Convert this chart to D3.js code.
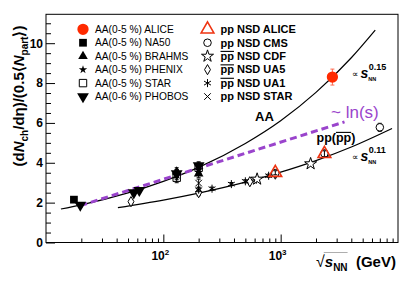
<!DOCTYPE html>
<html>
<head>
<meta charset="utf-8">
<script src="https://cdn.jsdelivr.net/npm/d3@7"></script>
<style>
  body { margin: 0; background: #fff; }
  svg { display: block; font-family: "Liberation Sans", Arial, Helvetica, sans-serif; }
</style>
</head>
<body>
<svg id="chart"></svg>
<script>
// values, energy sqrt(s_NN) in GeV
const aliceAA  = [{e: 2760, v: 8.3, err: 0.4}];
const na50AA   = [{e: 17.3, v: 2.15, err: 0.08}];
const brahmsAA = [{e: 130, v: 3.55, err: 0.2}, {e: 200, v: 3.45, err: 0.2}];
const phenixAA = [{e: 130, v: 3.4, err: 0.25}, {e: 200, v: 3.65, err: 0.25}];
const starAA   = [{e: 130, v: 3.25, err: 0.25}, {e: 200, v: 3.75, err: 0.25}];
const phobosAA = [{e: 19.6, v: 1.88, err: 0.12}, {e: 56, v: 2.5, err: 0.12}, {e: 62.4, v: 2.62, err: 0.12},
                  {e: 130, v: 3.45, err: 0.2}, {e: 200, v: 3.85, err: 0.2}];

const alicePP = [{e: 900, v: 3.5, err: 0.1}, {e: 2360, v: 4.45, err: 0.15}];
const cmsPP   = [{e: 900, v: 3.48, err: 0.1}, {e: 2360, v: 4.47, err: 0.15}, {e: 7000, v: 5.78, err: 0.2}];
const cdfPP   = [{e: 630, v: 3.18, err: 0.1}, {e: 1800, v: 3.95, err: 0.12}];
const ua5PP   = [{e: 53, v: 2.05, err: 0.1}, {e: 200, v: 2.5, err: 0.15}, {e: 546, v: 3.05, err: 0.1}, {e: 900, v: 3.43, err: 0.1}];
const ua1PP   = [{e: 200, v: 2.65, err: 0.1}, {e: 260, v: 2.7, err: 0.08}, {e: 380, v: 2.93, err: 0.08},
                 {e: 500, v: 3.07, err: 0.08}, {e: 620, v: 3.15, err: 0.08}, {e: 790, v: 3.35, err: 0.08}, {e: 900, v: 3.45, err: 0.08}];
const starPP  = [{e: 200, v: 2.98, err: 0.2}];

// fit curves, points
const aaFitE = [13.4, 20, 50, 100, 200, 500, 1000, 2000, 4000, 6400];
const aaFitV = [1.68, 1.89, 2.49, 3.07, 3.77, 4.97, 6.11, 7.53, 9.27, 10.66];
const ppFitE = [41, 100, 200, 500, 1000, 2000, 4000, 8900];
const ppFitV = [1.75, 2.13, 2.48, 3.03, 3.53, 4.11, 4.79, 5.72];
const lnFitE = [19.6, 3500];
const lnFitV = [1.85, 6.05];

// ticks
const xMajor = [100, 1000];
const xMajorExp = ["2", "3"];
const xMinor = [20, 30, 40, 50, 60, 70, 80, 90, 200, 300, 400, 500, 600, 700, 800, 900, 2000, 3000, 4000, 5000, 6000, 7000, 8000, 9000];
const yMajor = [0, 2, 4, 6, 8, 10];
const yMinor = d3.range(0.5, 11.5, 0.5).filter(d => d % 2 !== 0);

const legendLeft  = ["AA(0-5 %) ALICE", "AA(0-5 %) NA50", "AA(0-5 %) BRAHMS", "AA(0-5 %) PHENIX", "AA(0-5 %) STAR", "AA(0-6 %) PHOBOS"];
const legendRight = ["pp NSD  ALICE", "pp NSD CMS", "pp NSD CDF", "pp NSD UA5", "pp NSD UA1", "pp NSD STAR"];
const legendRightBar = [false, false, true, true, true, false];

const RED = "#ff2a00";
const PURPLE = "#9a44cc";

class MultChart {
  constructor(_config) {
    this.config = {
      parentElement: _config.parentElement,
      containerWidth: 416,
      containerHeight: 302,
      left: 46, right: 398, top: 14.3, bottom: 242.5
    };
    this.initVis();
  }

  initVis() {
    let vis = this;
    const c = vis.config;
    vis.svg = d3.select(c.parentElement)
      .attr('width', c.containerWidth)
      .attr('height', c.containerHeight);

    vis.x = d3.scaleLog().domain([10, 10000]).range([c.left, c.right]);
    vis.y = d3.scaleLinear().domain([0, 11.45]).range([c.bottom, c.top]);

    // series styles
    vis.series = [
      {data: aliceAA,  shape: d3.symbolCircle,   size: 100, fill: RED, stroke: "none", err: "#ff6a50", leg: 0, side: 0},
      {data: na50AA,   shape: d3.symbolSquare,   size: 60,  fill: "#000", stroke: "none", leg: 1, side: 0},
      {data: brahmsAA, shape: d3.symbolTriangle, size: 40,  fill: "#000", stroke: "none", leg: 2, side: 0},
      {data: phenixAA, shape: d3.symbolStar,     size: 30,  fill: "#000", stroke: "none", leg: 3, side: 0},
      {data: starAA,   shape: d3.symbolSquare,   size: 55,  fill: "none", stroke: "#000", leg: 4, side: 0},
      {data: phobosAA, shape: d3.symbolTriangle, size: 60,  fill: "#000", stroke: "none", flip: true, leg: 5, side: 0},
      {data: ua5PP,    shape: d3.symbolDiamond,  size: 30,  fill: "#fff", stroke: "#000", leg: 3, side: 1},
      {data: ua1PP,    shape: d3.symbolAsterisk, size: 45,  fill: "none", stroke: "#000", leg: 4, side: 1},
      {data: starPP,   shape: d3.symbolX,        size: 30,  fill: "none", stroke: "#000", leg: 5, side: 1},
      {data: cdfPP,    shape: d3.symbolStar,     size: 45,  fill: "#fff", stroke: "#000", leg: 2, side: 1},
      {data: cmsPP,    shape: d3.symbolCircle,   size: 45,  fill: "#fff", stroke: "#000", leg: 1, side: 1},
      {data: alicePP,  shape: d3.symbolTriangle, size: 70,  fill: "none", stroke: "#ee3311", sw: 1.6, leg: 0, side: 1}
    ];
    vis.renderVis();
  }

  renderVis() {
    let vis = this;
    const c = vis.config;
    const x = vis.x, y = vis.y;

    // ticks, inside the frame
    const bottomAxis = (vals, len) => vis.svg.append('g')
      .attr('transform', `translate(0,${c.bottom})`)
      .call(d3.axisBottom(x).tickValues(vals).tickSize(-len).tickFormat(''))
      .call(g => g.select('.domain').remove());
    bottomAxis(xMinor, 4);
    bottomAxis(xMajor, 8);

    vis.svg.append('g')
      .attr('transform', `translate(${c.left},0)`)
      .call(d3.axisLeft(y).tickValues(yMinor).tickSize(-5).tickFormat(''))
      .call(g => g.select('.domain').remove());
    vis.svg.append('g')
      .attr('transform', `translate(${c.left},0)`)
      .call(d3.axisLeft(y).tickValues(yMajor).tickSize(-9).tickPadding(3))
      .call(g => g.select('.domain').remove())
      .call(g => g.selectAll('text').attr('font-size', 12).attr('font-weight', 'bold')
        .attr('font-family', '"Liberation Sans", Arial, sans-serif').attr('fill', '#000'));

    vis.svg.selectAll('.xlab').data(xMajor).join('text')
      .attr('class', 'xlab')
      .attr('x', d => x(d) - 3)
      .attr('y', 260)
      .attr('text-anchor', 'middle')
      .attr('font-size', 12).attr('font-weight', 'bold')
      .text('10')
      .append('tspan').attr('dy', -5).attr('font-size', 8)
      .text((d, i) => xMajorExp[i]);

    // frame
    vis.svg.append('rect')
      .attr('x', c.left).attr('y', c.top)
      .attr('width', c.right - c.left).attr('height', c.bottom - c.top)
      .attr('fill', 'none').attr('stroke', '#000').attr('stroke-width', 1);

    // fits
    const line = d3.line().x(d => x(d[0])).y(d => y(d[1])).curve(d3.curveMonotoneX);
    vis.svg.append('path').datum(d3.zip(aaFitE, aaFitV))
      .attr('d', line).attr('fill', 'none').attr('stroke', '#000').attr('stroke-width', 1.2);
    vis.svg.append('path').datum(d3.zip(ppFitE, ppFitV))
      .attr('d', line).attr('fill', 'none').attr('stroke', '#000').attr('stroke-width', 1.2);
    vis.svg.append('path').datum(d3.zip(lnFitE, lnFitV))
      .attr('d', line).attr('fill', 'none').attr('stroke', PURPLE)
      .attr('stroke-width', 3).attr('stroke-dasharray', '7,4');

    // points
    vis.series.forEach(s => {
      const g = vis.svg.append('g');
      g.selectAll('.eb').data(s.data).join('path')
        .attr('d', d => {
          const xp = x(d.e), y1 = y(d.v - d.err), y2 = y(d.v + d.err);
          return `M${xp},${y1}V${y2}M${xp - 2},${y1}H${xp + 2}M${xp - 2},${y2}H${xp + 2}`;
        })
        .attr('stroke', s.err || '#000').attr('stroke-width', 1).attr('fill', 'none');
      g.selectAll('.pt').data(s.data).join('path')
        .attr('transform', d => `translate(${x(d.e)},${y(d.v)})` + (s.flip ? ' rotate(180)' : ''))
        .attr('d', d3.symbol(s.shape, s.size))
        .attr('fill', s.fill).attr('stroke', s.stroke).attr('stroke-width', s.sw || 1);
    });

    // legend
    const rowY = i => 29.3 + i * 13.45;
    vis.series.forEach(s => {
      const mx = s.side === 0 ? 83 : 207.5;
      vis.svg.append('path')
        .attr('transform', `translate(${mx},${rowY(s.leg)})` + (s.flip ? ' rotate(180)' : ''))
        .attr('d', d3.symbol(s.shape, s.side === 0 && s.leg === 3 ? 22 : s.size))
        .attr('fill', s.fill === '#fff' ? 'none' : s.fill).attr('stroke', s.stroke).attr('stroke-width', s.sw || 1);
    });
    vis.svg.selectAll('.legL').data(legendLeft).join('text')
      .attr('x', 95).attr('y', (d, i) => rowY(i) + 3.7)
      .attr('font-size', 10.2).attr('font-weight', 500)
      .text(d => d);
    const legR = vis.svg.selectAll('.legR').data(legendRight).join('text')
      .attr('x', 220.5).attr('y', (d, i) => rowY(i) + 3.8)
      .attr('font-size', 11).attr('font-weight', 'bold')
      .text(d => d);
    legR.each(function(d, i) {
      if (legendRightBar[i]) vis.overline(this, 0, 1, rowY(i) + 3.8 - 8.6);
    });

    // annotations
    vis.svg.append('text').attr('x', 255).attr('y', 121)
      .attr('font-size', 13).attr('font-weight', 'bold').text('AA');
    const ppt = vis.svg.append('text').attr('x', 316.5).attr('y', 142)
      .attr('font-size', 12.5).attr('font-weight', 'bold').text('pp(pp)');
    vis.overline(ppt.node(), 3, 4, 142 - 9.6);
    vis.svg.append('text').attr('x', 331).attr('y', 118)
      .attr('font-size', 17).attr('fill', PURPLE).text('~ ln(s)');

    vis.power(352, 78, '0.15');
    vis.power(352, 161, '0.11');

    // axis titles
    const xt = vis.svg.append('text').attr('x', 316).attr('y', 267)
      .attr('font-size', 15).attr('font-weight', 'bold');
    xt.append('tspan').attr('font-weight', 'normal').attr('font-size', 16).text('\u221A');
    xt.append('tspan').attr('font-style', 'italic').text('s');
    xt.append('tspan').attr('font-size', 10).attr('dy', 4).text('NN');
    xt.append('tspan').attr('dy', -4).text('\u00A0 (GeV)');
    const n = xt.node();
    const bx0 = n.getStartPositionOfChar(1).x, bx1 = n.getEndPositionOfChar(3).x;
    vis.svg.append('line').attr('x1', bx0 - 1).attr('x2', bx1)
      .attr('y1', 252.5).attr('y2', 252.5).attr('stroke', '#999').attr('stroke-width', 0.8);

    const yt = vis.svg.append('text')
      .attr('transform', 'translate(24,96) rotate(-90)')
      .attr('text-anchor', 'middle')
      .attr('font-size', 15).attr('font-weight', 'bold');
    yt.append('tspan').text('(d');
    yt.append('tspan').attr('font-style', 'italic').text('N');
    yt.append('tspan').attr('font-size', 10).attr('dy', 4).text('ch');
    yt.append('tspan').attr('dy', -4).text('/d\u03B7)/(0.5\u27E8');
    yt.append('tspan').attr('font-style', 'italic').text('N');
    yt.append('tspan').attr('font-size', 10).attr('dy', 4).text('part');
    yt.append('tspan').attr('dy', -4).text('\u27E9)');
  }

  overline(node, i0, i1, yy) {
    const a = node.getStartPositionOfChar(i0).x, b = node.getEndPositionOfChar(i1).x;
    this.svg.append('line').attr('x1', a).attr('x2', b).attr('y1', yy).attr('y2', yy)
      .attr('stroke', '#000').attr('stroke-width', 1.1);
  }

  power(x0, base, exp) {
    const t = this.svg.append('text').attr('x', x0).attr('y', base);
    t.append('tspan').attr('font-size', 9).attr('dy', -1).text('\u221D ');
    t.append('tspan').attr('font-size', 14).attr('dy', 1).attr('font-weight', 'bold').attr('font-style', 'italic').text('s');
    t.append('tspan').attr('font-size', 5.5).attr('font-weight', 'bold').attr('dy', 3).text('NN');
    const n = t.node();
    const sx = n.getEndPositionOfChar(2).x;
    this.svg.append('text').attr('x', sx + 0.5).attr('y', base - 8)
      .attr('font-size', 9).attr('font-weight', 'bold').text(exp);
  }
}

const chart = new MultChart({parentElement: '#chart'});
</script>
</body>
</html>
